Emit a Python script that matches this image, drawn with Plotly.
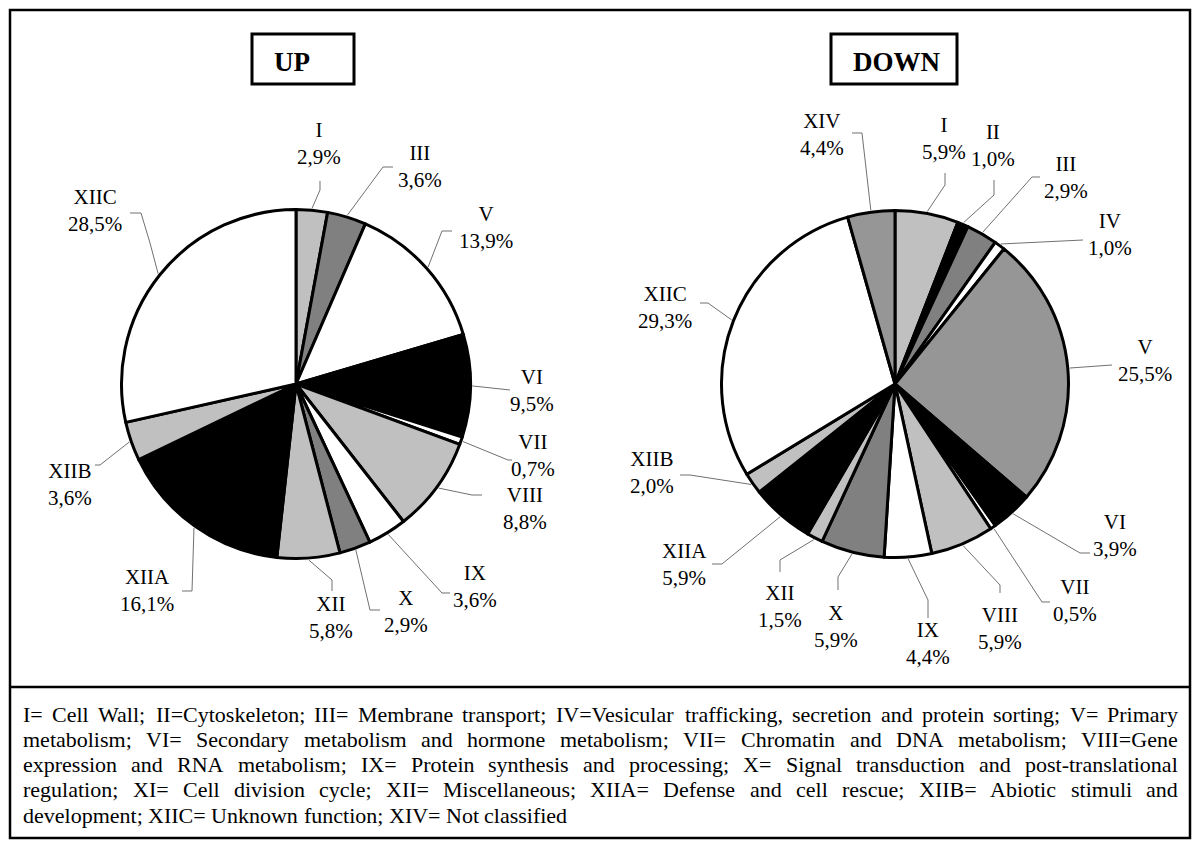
import math
import plotly.graph_objects as go

# ---------------- data ----------------
up_labels = ["I", "III", "V", "VI", "VII", "VIII", "IX", "X", "XII", "XIIA", "XIIB", "XIIC"]
up_values = [2.9, 3.6, 13.9, 9.5, 0.7, 8.8, 3.6, 2.9, 5.8, 16.1, 3.6, 28.5]

down_labels = ["I", "II", "III", "IV", "V", "VI", "VII", "VIII", "IX", "X", "XII",
               "XIIA", "XIIB", "XIIC", "XIV"]
down_values = [5.9, 1.0, 2.9, 1.0, 25.5, 3.9, 0.5, 5.9, 4.4, 5.9, 1.5, 5.9, 2.0, 29.3, 4.4]

legend_lines = [
    "I= Cell Wall; II=Cytoskeleton; III= Membrane transport; IV=Vesicular trafficking, secretion and protein sorting; V= Primary",
    "metabolism; VI= Secondary metabolism and hormone metabolism; VII= Chromatin and DNA metabolism; VIII=Gene",
    "expression and RNA metabolism; IX= Protein synthesis and processing; X= Signal transduction and post-translational",
    "regulation; XI= Cell division cycle; XII= Miscellaneous; XIIA= Defense and cell rescue; XIIB= Abiotic stimuli and",
    "development; XIIC= Unknown function; XIV= Not classified",
]

# ---------------- styles ----------------
LG, DG, MG, WH, BK = "#c0c0c0", "#808080", "#969696", "#ffffff", "#000000"
up_colors = [LG, DG, WH, BK, WH, LG, WH, DG, LG, BK, LG, WH]
down_colors = [LG, BK, DG, WH, MG, BK, WH, LG, WH, DG, LG, BK, LG, WH, MG]

W, H, OFF = 1184, 832, 8
def px(x):
    return (x - OFF) / W
def py(y):
    return 1 - (y - OFF) / H

# pie geometry in page pixels (centre x, centre y, radius)
UP_GEO = (296, 384, 174.5)
DOWN_GEO = (895, 384, 173.5)

# label layout: label centre and leader-line bend points (page px)
up_layout = {
    "I": ((319, 144), [(320, 190), (320, 181)]),
    "III": ((420, 166), [(383, 167), (393, 167)]),
    "V": ((486, 227), [(442, 231), (452, 231)]),
    "VI": ((532, 390), [(510, 390)]),
    "VII": ((533, 455), [(508, 460), (512, 460)]),
    "VIII": ((525, 508), [(472, 495), (482, 495)]),
    "IX": ((475, 586), [(442, 593), (450, 593)]),
    "X": ((406, 611), [(370, 610), (380, 610)]),
    "XII": ((331, 617), [(332, 580), (332, 591)]),
    "XIIA": ((147, 590), [(192, 591), (182, 591)]),
    "XIIB": ((70, 484), [(100, 465), (95, 465)]),
    "XIIC": ((95, 210), [(150, 243), (141, 213), (130, 213)]),
}
down_layout = {
    "XIV": ((822, 134), [(862, 133), (852, 133)]),
    "I": ((944, 138), [(945, 185), (945, 173)]),
    "II": ((993, 145), [(994, 195), (994, 180)]),
    "III": ((1066, 177), [(1032, 177), (1040, 177)]),
    "IV": ((1110, 234), [(1083, 240)]),
    "V": ((1145, 360), [(1112, 365)]),
    "VI": ((1115, 535), [(1080, 553), (1090, 553)]),
    "VII": ((1075, 600), [(1042, 602), (1050, 602)]),
    "VIII": ((1000, 628), [(1000, 585), (1000, 593)]),
    "IX": ((928, 643), [(928, 600), (928, 618)]),
    "X": ((836, 626), [(838, 577), (838, 590)]),
    "XII": ((780, 606), [(780, 560), (780, 572)]),
    "XIIA": ((684, 564), [(722, 564), (712, 564)]),
    "XIIB": ((652, 472), [(690, 475), (680, 475)]),
    "XIIC": ((665, 307), [(708, 303), (700, 303)]),
}

SERIF = "Liberation Serif"
LABEL_SIZE = 21
LEADER = dict(color="#707070", width=1)

fig = go.Figure()
shapes = []
annotations = []


def add_pie(labels, values, colors, geo, layout_map):
    cx, cy, r = geo
    fig.add_trace(go.Pie(
        labels=labels, values=values, sort=False, direction="clockwise", rotation=0,
        marker=dict(colors=colors, line=dict(color="black", width=3)),
        textinfo="none", hoverinfo="skip", showlegend=False,
        domain=dict(x=[px(cx - r), px(cx + r)], y=[py(cy + r), py(cy - r)]),
    ))
    total = sum(values)
    cum = 0.0
    for lab, val in zip(labels, values):
        mid = (cum + val / 2) / total * 2 * math.pi
        cum += val
        ex = cx + (r + 2) * math.sin(mid)
        ey = cy - (r + 2) * math.cos(mid)
        (lx, ly), bends = layout_map[lab]
        pts = [(ex, ey)] + bends
        path = "M " + " L ".join(f"{px(x):.5f},{py(y):.5f}" for x, y in pts)
        shapes.append(dict(type="path", path=path, xref="paper", yref="paper", line=LEADER))
        txt = f"{lab}<br>{val:.1f}".replace(".", ",") + "%"
        annotations.append(dict(x=px(lx), y=py(ly), xref="paper", yref="paper", text=txt,
                                showarrow=False, xanchor="center", yanchor="middle",
                                font=dict(family=SERIF, size=LABEL_SIZE, color="black")))


add_pie(up_labels, up_values, up_colors, UP_GEO, up_layout)
add_pie(down_labels, down_values, down_colors, DOWN_GEO, down_layout)

# frames
def rect(x0, y0, x1, y1, w):
    return dict(type="rect", xref="paper", yref="paper", x0=px(x0), x1=px(x1),
                y0=py(y1), y1=py(y0), line=dict(color="black", width=w), fillcolor="rgba(0,0,0,0)")

shapes.append(rect(10, 10, 1190, 838, 2.5))
shapes.append(dict(type="line", xref="paper", yref="paper", x0=px(10), x1=px(1190),
                   y0=py(687), y1=py(687), line=dict(color="black", width=2.5)))
shapes.append(rect(252, 34, 354, 84, 3))
shapes.append(rect(831, 34, 957, 84, 3))
annotations.append(dict(x=px(292), y=py(62), xref="paper", yref="paper", text="<b>UP</b>",
                        showarrow=False, xanchor="center", yanchor="middle",
                        font=dict(family=SERIF, size=27, color="black")))
annotations.append(dict(x=px(897), y=py(62), xref="paper", yref="paper", text="<b>DOWN</b>",
                        showarrow=False, xanchor="center", yanchor="middle",
                        font=dict(family=SERIF, size=27, color="black")))

# justified legend text (Times metrics, per 1000 em)
TW = {' ': 250, ',': 250, ';': 278, '=': 564, '-': 333, '.': 250,
      'A': 722, 'B': 667, 'C': 667, 'D': 722, 'E': 611, 'F': 556, 'G': 722, 'H': 722, 'I': 333,
      'J': 389, 'K': 722, 'L': 611, 'M': 889, 'N': 722, 'O': 722, 'P': 556, 'Q': 722, 'R': 667,
      'S': 556, 'T': 611, 'U': 722, 'V': 722, 'W': 944, 'X': 722, 'Y': 722, 'Z': 611,
      'a': 444, 'b': 500, 'c': 444, 'd': 500, 'e': 444, 'f': 333, 'g': 500, 'h': 500, 'i': 278,
      'j': 278, 'k': 500, 'l': 278, 'm': 778, 'n': 500, 'o': 500, 'p': 500, 'q': 500, 'r': 333,
      's': 389, 't': 278, 'u': 500, 'v': 500, 'w': 722, 'x': 500, 'y': 500, 'z': 444}
LEG_SIZE = 22
LEG_LEFT, LEG_RIGHT = 22, 1177
LEG_Y0, LEG_DY = 714, 25.3

def wwidth(s):
    return sum(TW.get(c, 500) for c in s) / 1000 * LEG_SIZE

for i, line in enumerate(legend_lines):
    yy = LEG_Y0 + i * LEG_DY
    words = line.split(" ")
    widths = [wwidth(w) for w in words]
    last = i == len(legend_lines) - 1
    if last or len(words) == 1:
        gap = wwidth(" ")
    else:
        gap = max((LEG_RIGHT - LEG_LEFT - sum(widths)) / (len(words) - 1), 0.6 * wwidth(" "))
    x = LEG_LEFT
    for w, wd in zip(words, widths):
        annotations.append(dict(x=px(x), y=py(yy), xref="paper", yref="paper", text=w,
                                showarrow=False, xanchor="left", yanchor="middle", borderpad=0,
                                font=dict(family=SERIF, size=LEG_SIZE, color="black")))
        x += wd + gap

fig.update_layout(width=W, height=H, margin=dict(l=0, r=0, t=0, b=0),
                  paper_bgcolor="white", plot_bgcolor="white",
                  shapes=shapes, annotations=annotations)
fig.write_html("out.html")
